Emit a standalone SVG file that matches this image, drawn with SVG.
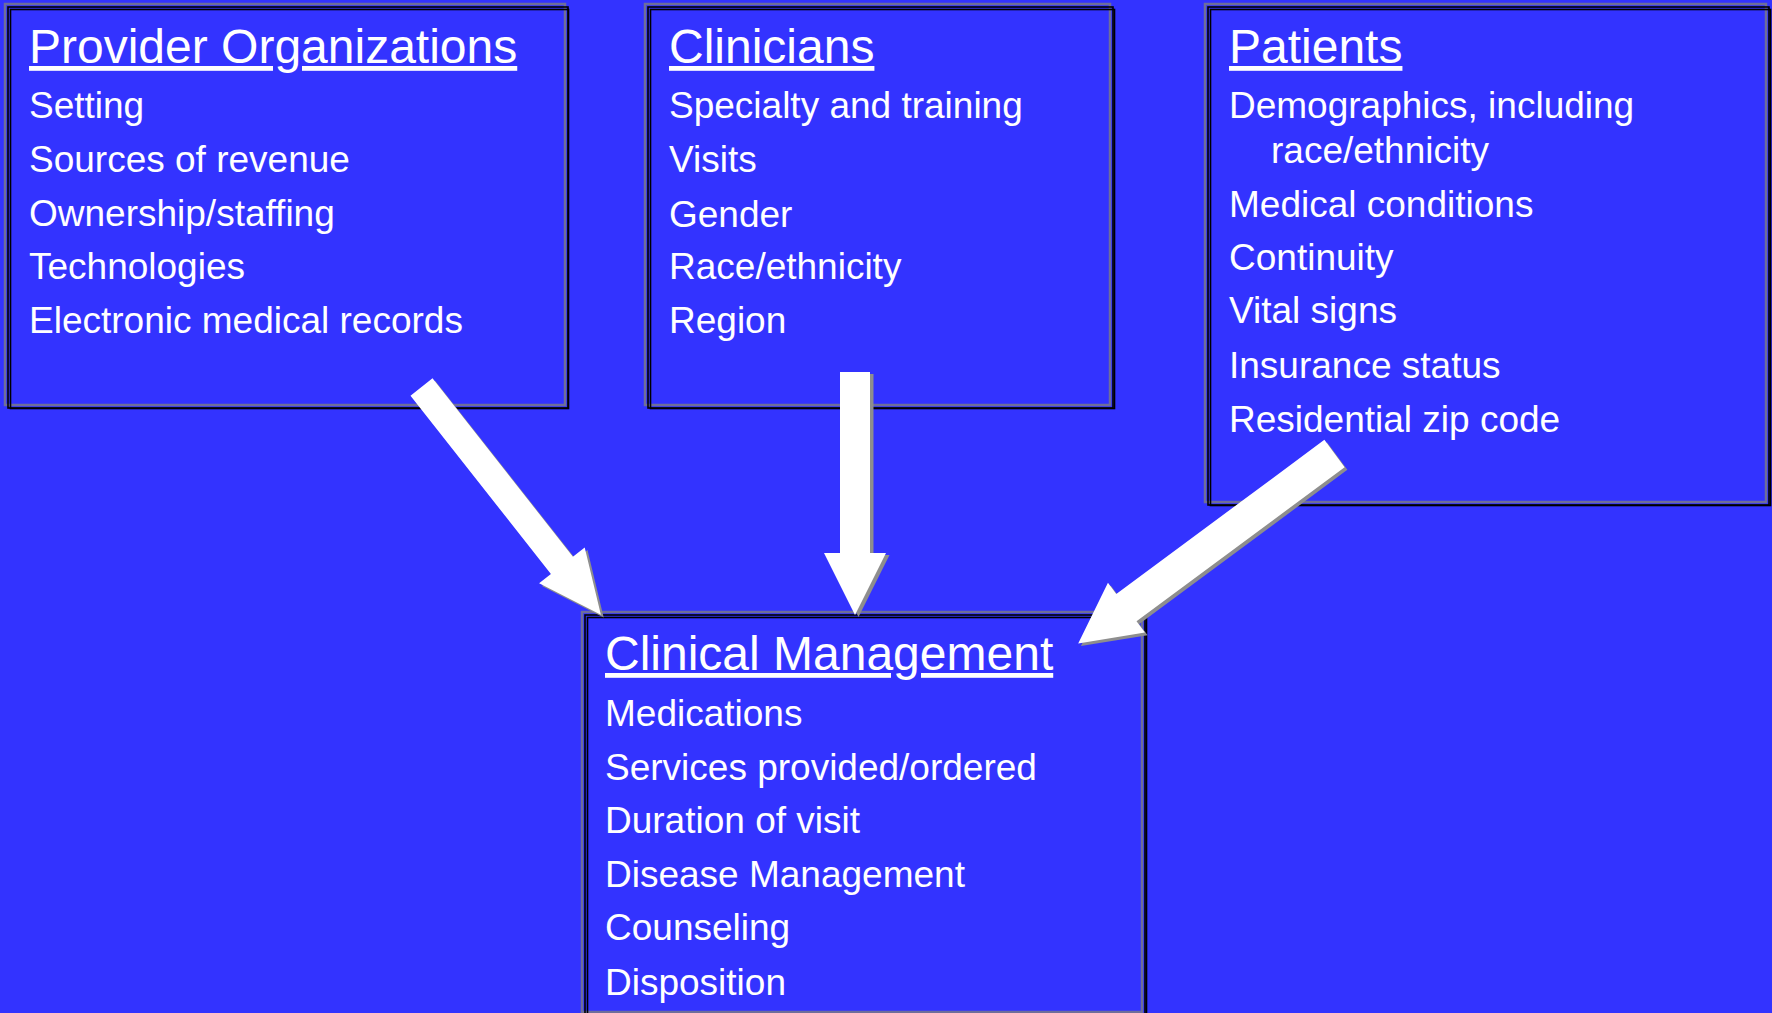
<svg xmlns="http://www.w3.org/2000/svg" width="1772" height="1013" viewBox="0 0 1772 1013">
<style>
.bg{fill:#3333FF}
.fr-g{fill:none;stroke:#6E6E9A;stroke-width:2.5}
.fr-b{fill:none;stroke:#000;stroke-width:1.6}
.t{font-family:"Liberation Sans",Arial,sans-serif;fill:#fff}
.h{font-size:48px;text-decoration:underline}
.b{font-size:37px}
.arr{fill:#fff}
.sh{fill:#8E8E8E}
</style>
<rect class="bg" x="0" y="0" width="1772" height="1013"/>

<g id="provider-organizations">
<rect class="fr-g" x="5" y="4" width="560" height="401"/>
<rect class="fr-b" x="8" y="7" width="560" height="401"/>
<rect class="fr-b" x="10.5" y="9.5" width="558" height="399"/>
<text class="t h" x="29" y="63">Provider Organizations</text>
<text class="t b" x="29" y="118">Setting</text>
<text class="t b" x="29" y="172">Sources of revenue</text>
<text class="t b" x="29" y="226">Ownership/staffing</text>
<text class="t b" x="29" y="279">Technologies</text>
<text class="t b" x="29" y="333">Electronic medical records</text>
</g>

<g id="clinicians">
<rect class="fr-g" x="645" y="4" width="465" height="401"/>
<rect class="fr-b" x="648" y="7" width="465" height="401"/>
<rect class="fr-b" x="650.5" y="9.5" width="464" height="399"/>
<text class="t h" x="669" y="63">Clinicians</text>
<text class="t b" x="669" y="118">Specialty and training</text>
<text class="t b" x="669" y="172">Visits</text>
<text class="t b" x="669" y="227">Gender</text>
<text class="t b" x="669" y="279">Race/ethnicity</text>
<text class="t b" x="669" y="333">Region</text>
</g>

<g id="patients">
<rect class="fr-g" x="1205" y="4" width="561" height="498"/>
<rect class="fr-b" x="1208" y="7" width="561" height="498"/>
<rect class="fr-b" x="1210.5" y="9.5" width="560" height="496"/>
<text class="t h" x="1229" y="63">Patients</text>
<text class="t b" x="1229" y="118">Demographics, including</text>
<text class="t b" x="1271" y="163">race/ethnicity</text>
<text class="t b" x="1229" y="217">Medical conditions</text>
<text class="t b" x="1229" y="270">Continuity</text>
<text class="t b" x="1229" y="323">Vital signs</text>
<text class="t b" x="1229" y="378">Insurance status</text>
<text class="t b" x="1229" y="432">Residential zip code</text>
</g>

<g id="clinical-management">
<rect class="fr-g" x="582" y="612" width="560" height="400"/>
<rect class="fr-b" x="585" y="615" width="560" height="400"/>
<rect class="fr-b" x="587.5" y="617.5" width="559" height="400"/>
<text class="t h" x="605" y="670">Clinical Management</text>
<text class="t b" x="605" y="726">Medications</text>
<text class="t b" x="605" y="780">Services provided/ordered</text>
<text class="t b" x="605" y="833">Duration of visit</text>
<text class="t b" x="605" y="887">Disease Management</text>
<text class="t b" x="605" y="940">Counseling</text>
<text class="t b" x="605" y="995">Disposition</text>
</g>

<g id="connectors">
<g transform="translate(421.5,387) rotate(51.79)">
<polygon class="sh" transform="translate(3.8,-0.6)" points="0,-14 227,-14 227,-29 290,0 227,29 227,14 0,14"/>
<polygon class="arr" points="0,-14 227,-14 227,-29 290,0 227,29 227,14 0,14"/>
</g>
<g transform="translate(855,372) rotate(90)">
<polygon class="sh" transform="translate(2,-3.5)" points="0,-15 181,-15 181,-31 243,0 181,31 181,15 0,15"/>
<polygon class="arr" points="0,-15 181,-15 181,-31 243,0 181,31 181,15 0,15"/>
</g>
<g transform="translate(1334.5,453.5) rotate(143.46)">
<polygon class="sh" transform="translate(-0.6,-3.8)" points="0,-17 259,-17 259,-31 319,0 259,31 259,17 0,17"/>
<polygon class="arr" points="0,-17 259,-17 259,-31 319,0 259,31 259,17 0,17"/>
</g>
</g>
</svg>
